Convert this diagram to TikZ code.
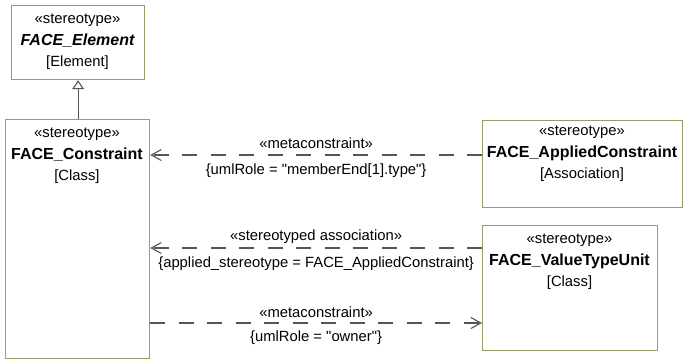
\documentclass[tikz,border=0pt]{standalone}
\usepackage{fontspec}
\setmainfont{Liberation Sans}[Ligatures=TeXOff]
\usetikzlibrary{arrows.meta}
\definecolor{boxline}{RGB}{155,155,100}
\definecolor{depline}{RGB}{85,85,85}
\tikzset{
  umlbox/.style={draw=boxline, line width=1.2pt, fill=white, inner sep=0pt, anchor=north west},
  boxtext/.style={align=center, inner sep=0pt, font=\fontsize{14.8}{21.5}\selectfont},
  dep/.style={draw=depline, line width=1.2pt, dash pattern=on 15pt off 13.5pt, -{Straight Barb[length=10pt,width=11pt,line width=1.1pt]}},
  lbl/.style={inner sep=0pt, font=\fontsize{14.8}{18}\selectfont},
  gen/.style={draw=depline, line width=1.1pt, -{Triangle[open,length=9pt,width=12pt,line width=1.1pt,fill=white]}}
}
\newcommand{\nm}[1]{{\fontsize{16}{21.5}\selectfont\bfseries #1}}
\begin{document}
\begin{tikzpicture}[x=1pt,y=-1pt]
\useasboundingbox (0,0) rectangle (683,362);
% boxes
\node[umlbox, minimum width=133pt, minimum height=74pt] (el) at (11,5) {};
\node[umlbox, minimum width=144pt, minimum height=239pt] (con) at (5,119) {};
\node[umlbox, minimum width=200pt, minimum height=87pt] (ac) at (482,120) {};
\node[umlbox, minimum width=175pt, minimum height=125pt] (vtu) at (482,225) {};
% box texts
\node[boxtext] (el-t) at (77.5,42) {«stereotype»\\{\fontsize{16}{21.5}\selectfont\bfseries\itshape FACE\_Element}\\{[}Element{]}};
\node[boxtext] (con-t) at (77,156) {«stereotype»\\\nm{FACE\_Constraint}\\{[}Class{]}};
\node[boxtext] (ac-t) at (582,154) {«stereotype»\\\nm{FACE\_AppliedConstraint}\\{[}Association{]}};
\node[boxtext] (vtu-t) at (569.5,262) {«stereotype»\\\nm{FACE\_ValueTypeUnit}\\{[}Class{]}};
% generalization
\draw[gen] (con.north -| el.south) -- (el.south);
% dependencies
\draw[dep] (ac.west |- 0,155) -- (con.east |- 0,155)
  node[lbl, midway, yshift=12pt] (l1a) {«metaconstraint»}
  node[lbl, midway, yshift=-16pt] (l1b) {\{umlRole = "memberEnd[1].type"\}};
\draw[dep] (vtu.west |- 0,248) -- (con.east |- 0,248)
  node[lbl, midway, yshift=11pt] (l2a) {«stereotyped association»}
  node[lbl, midway, yshift=-16pt] (l2b) {\{applied\_stereotype = FACE\_AppliedConstraint\}};
\draw[dep] (con.east |- 0,323) -- (vtu.west |- 0,323)
  node[lbl, midway, yshift=11pt] (l3a) {«metaconstraint»}
  node[lbl, midway, yshift=-15pt] (l3b) {\{umlRole = "owner"\}};
\end{tikzpicture}
\end{document}
